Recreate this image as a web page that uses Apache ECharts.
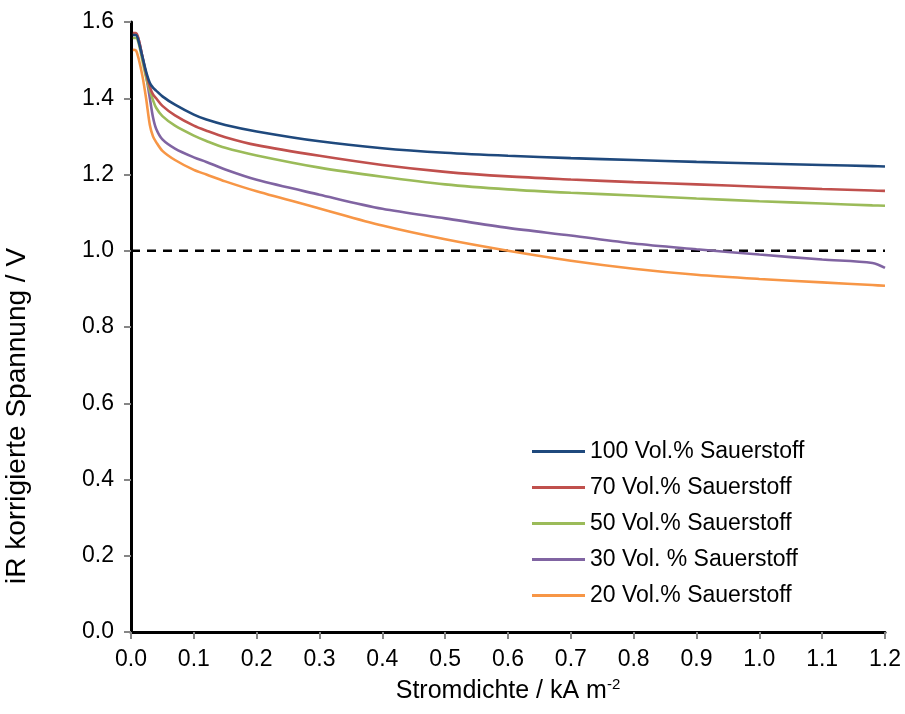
<!DOCTYPE html>
<html>
<head>
<meta charset="utf-8">
<script src="https://cdn.jsdelivr.net/npm/echarts@6/dist/echarts.min.js"></script>
<style>html,body{margin:0;padding:0;background:#fff;}#c{width:905px;height:714px;}</style>
</head>
<body>
<div id="c"></div>
<script>
const xs = [0.003, 0.008, 0.012, 0.018, 0.024, 0.03, 0.035, 0.04, 0.05, 0.07, 0.1, 0.12, 0.15, 0.2, 0.3, 0.4, 0.5, 0.6, 0.7, 0.8, 0.9, 1.0, 1.1, 1.18, 1.2];
const o2_100 = [1.566, 1.566, 1.55, 1.51, 1.47, 1.44, 1.428, 1.42, 1.405, 1.383, 1.357, 1.344, 1.330, 1.313, 1.287, 1.269, 1.257, 1.249, 1.243, 1.238, 1.233, 1.229, 1.225, 1.222, 1.221];
const o2_70 = [1.571, 1.571, 1.555, 1.51, 1.465, 1.43, 1.41, 1.40, 1.38, 1.355, 1.328, 1.315, 1.298, 1.277, 1.249, 1.225, 1.207, 1.195, 1.187, 1.180, 1.174, 1.168, 1.162, 1.158, 1.157];
const o2_50 = [1.558, 1.558, 1.545, 1.50, 1.455, 1.42, 1.395, 1.375, 1.353, 1.328, 1.302, 1.288, 1.270, 1.250, 1.218, 1.194, 1.174, 1.161, 1.152, 1.145, 1.137, 1.130, 1.124, 1.119, 1.118];
const o2_30 = [1.568, 1.568, 1.555, 1.51, 1.46, 1.40, 1.35, 1.32, 1.292, 1.268, 1.245, 1.233, 1.213, 1.186, 1.147, 1.110, 1.085, 1.060, 1.040, 1.019, 1.004, 0.990, 0.977, 0.968, 0.955];
const o2_20 = [1.527, 1.525, 1.505, 1.46, 1.40, 1.33, 1.30, 1.285, 1.262, 1.238, 1.212, 1.200, 1.182, 1.156, 1.111, 1.066, 1.030, 1.000, 0.974, 0.953, 0.937, 0.926, 0.917, 0.910, 0.908];
const seriesNames = ['100 Vol.% Sauerstoff', '70 Vol.% Sauerstoff', '50 Vol.% Sauerstoff', '30 Vol. % Sauerstoff', '20 Vol.% Sauerstoff'];
const refX = [0, 1.2];
const refY = [1.0, 1.0];

const seriesValues = [o2_100, o2_70, o2_50, o2_30, o2_20];
const colors = ['#1F497D', '#C0504D', '#9BBB59', '#8064A2', '#F79646'];
const FONT = "'Liberation Sans', Arial, sans-serif";

const chart = echarts.init(document.getElementById('c'), null, {renderer: 'canvas'});
const series = seriesValues.map((vals, i) => ({
  name: seriesNames[i],
  type: 'line',
  data: xs.map((x, j) => [x, vals[j]]),
  showSymbol: false,
  smooth: 0.3,
  lineStyle: {color: colors[i], width: 2.6},
  itemStyle: {color: colors[i]},
  z: 7 - i
}));
series.push({
  name: 'ref',
  type: 'line',
  data: refX.map((x, j) => [x, refY[j]]),
  showSymbol: false,
  lineStyle: {color: '#000', width: 2.5, type: [9, 7]},
  z: 1
});

chart.setOption({
  animation: false,
  backgroundColor: '#fff',
  grid: {left: 131, right: 20, top: 22, bottom: 82, containLabel: false},
  legend: {
    orient: 'vertical',
    left: 527, top: 435,
    itemWidth: 53, itemHeight: 3,
    itemGap: 13,
    icon: 'rect',
    data: seriesNames,
    textStyle: {fontFamily: FONT, fontSize: 23, color: '#000', lineHeight: 23}
  },
  graphic: [{
    type: 'text',
    x: 17, y: 416,
    rotation: Math.PI / 2,
    style: {
      text: 'iR korrigierte Spannung / V',
      fontFamily: FONT, fontSize: 28, fill: '#000',
      textAlign: 'center', textVerticalAlign: 'middle'
    }
  }],
  xAxis: [{
    type: 'value', min: 0, max: 1.2, interval: 0.1,
    axisLine: {show: true, lineStyle: {color: '#868686', width: 2}},
    axisTick: {show: true, length: 7, lineStyle: {color: '#868686', width: 2}},
    splitLine: {show: false},
    axisLabel: {fontFamily: FONT, fontSize: 23, color: '#000', margin: 16, formatter: v => v.toFixed(1)},
    name: '{a|Stromdichte / kA m}{b|-2}',
    nameLocation: 'middle', nameGap: 45,
    nameTextStyle: {rich: {
      a: {fontFamily: FONT, fontSize: 25, color: '#000'},
      b: {fontFamily: FONT, fontSize: 15, color: '#000', padding: [0, 0, 14, 0]}
    }}
  }, {
    type: 'value', min: 0, max: 1.2, position: 'top',
    axisLine: {show: true, lineStyle: {color: '#000', width: 3}},
    axisTick: {show: false}, axisLabel: {show: false}, splitLine: {show: false}
  }],
  yAxis: [{
    type: 'value', min: 0, max: 1.6, interval: 0.2,
    axisLine: {show: true, lineStyle: {color: '#868686', width: 2}},
    axisTick: {show: true, length: 7, lineStyle: {color: '#868686', width: 2}},
    splitLine: {show: false},
    axisLabel: {fontFamily: FONT, fontSize: 23, color: '#000', margin: 17, formatter: v => v.toFixed(1)}
  }, {
    type: 'value', min: 0, max: 1.6, position: 'right',
    axisLine: {show: true, lineStyle: {color: '#000', width: 3}},
    axisTick: {show: false}, axisLabel: {show: false}, splitLine: {show: false}
  }],
  series: series
});
</script>
</body>
</html>
